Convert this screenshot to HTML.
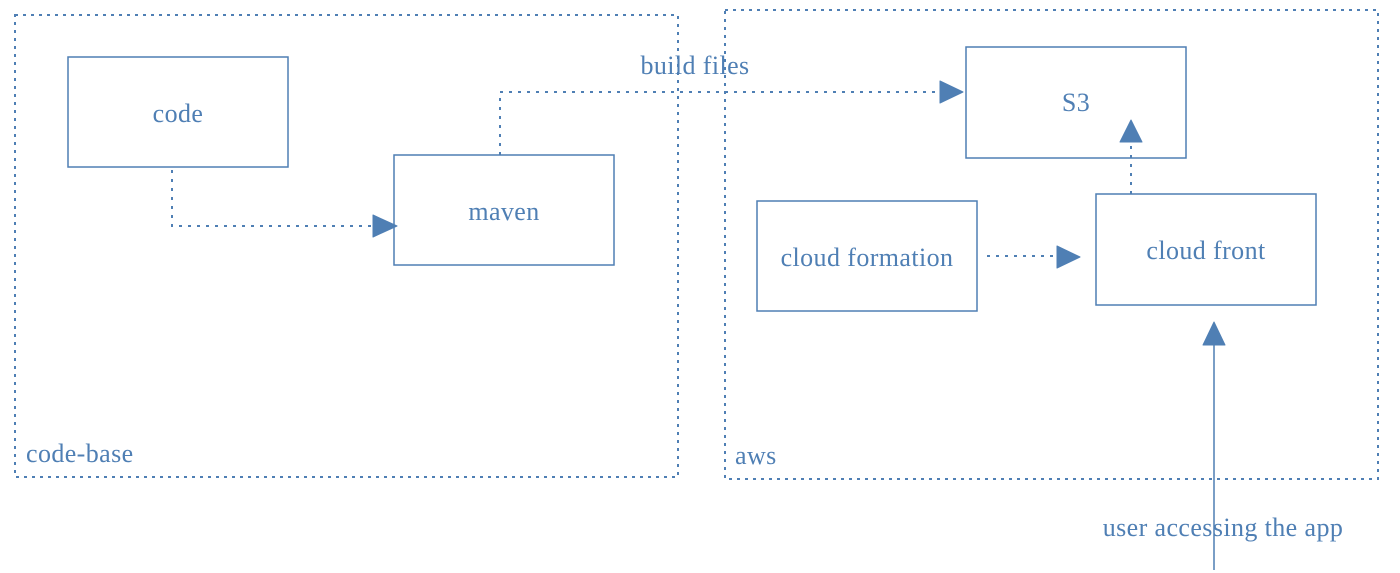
<!DOCTYPE html>
<html><head><style>body{margin:0;background:#fff}svg{display:block}</style></head><body>
<svg width="1400" height="573" xmlns="http://www.w3.org/2000/svg" font-family="Liberation Serif, serif" font-size="26" letter-spacing="0.4" fill="#4f7fb4">
<g fill="none" stroke="#4f7fb4" stroke-width="2">
<rect x="15" y="15" width="663" height="462" stroke-dasharray="3,5"/>
<rect x="725" y="10" width="653" height="469" stroke-dasharray="3,5"/>
<g stroke-width="1.5">
<rect x="68" y="57" width="220" height="110"/>
<rect x="394" y="155" width="220" height="110"/>
<rect x="966" y="47" width="220" height="111"/>
<rect x="757" y="201" width="220" height="110"/>
<rect x="1096" y="194" width="220" height="111"/>
</g>
<path d="M172 170 V226 H376" stroke-dasharray="3,6"/>
<path d="M500 155 V92 H940" stroke-dasharray="3,6"/>
<path d="M1131 194 V142" stroke-dasharray="3,6"/>
<path d="M987 256 H1058" stroke-dasharray="3,6"/>
<path d="M1214 570 V342" stroke-width="1.5"/>
</g>
<g fill="#4f7fb4" stroke="#4f7fb4" stroke-width="1" stroke-linejoin="round">
<polygon points="373,215 397,226 373,237"/>
<polygon points="940,81 963,92 940,103"/>
<polygon points="1120,142 1131,120 1142,142"/>
<polygon points="1057,246 1080,257 1057,268"/>
<polygon points="1203,345 1214,322 1225,345"/>
</g>
<g text-anchor="middle">
<text x="178" y="122">code</text>
<text x="504" y="220">maven</text>
<text x="1076" y="111">S3</text>
<text x="867" y="266">cloud formation</text>
<text x="1206" y="259">cloud front</text>
<text x="695" y="74">build files</text>
<text x="1223" y="536">user accessing the app</text>
</g>
<text x="26" y="462">code-base</text>
<text x="735" y="464">aws</text>
</svg>
</body></html>
